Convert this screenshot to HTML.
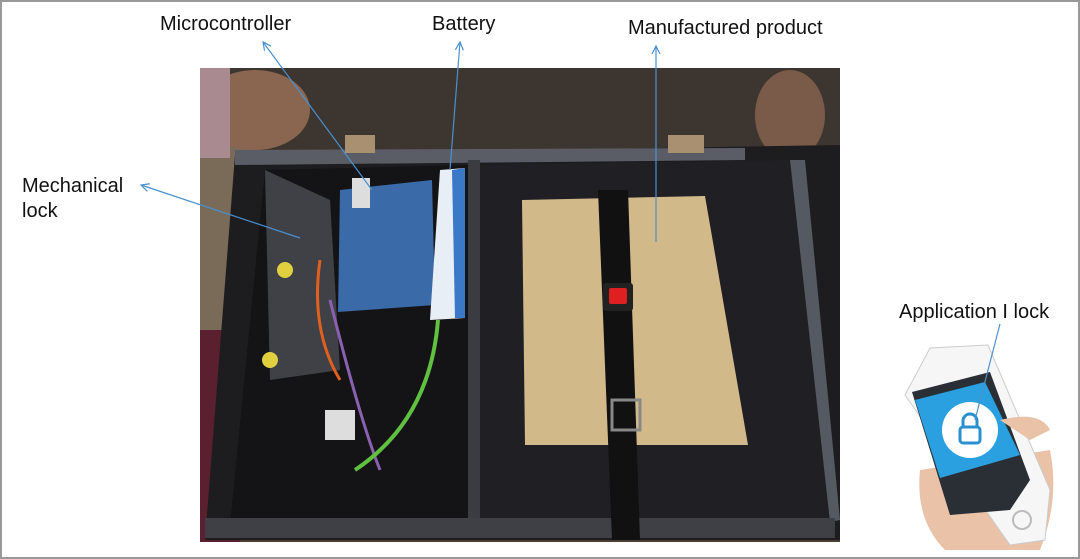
<!DOCTYPE html>
<html><head><meta charset="utf-8"><style>
html,body{margin:0;padding:0;background:#fff}
svg{display:block}
text{font-family:"Liberation Sans",sans-serif;font-size:20px;fill:#111}
</style></head><body>
<svg width="1080" height="559" viewBox="0 0 1080 559" xmlns="http://www.w3.org/2000/svg">
<defs>
<marker id="ah" markerWidth="10" markerHeight="10" refX="1" refY="5" orient="auto" markerUnits="userSpaceOnUse">
<path d="M9,1 L1,5 L9,9" fill="none" stroke="#4a90d0" stroke-width="1.2"/></marker>
</defs>
<rect x="1" y="1" width="1078" height="557" fill="#fff" stroke="#999" stroke-width="2"/>
<!-- photo -->
<rect x="200" y="68" width="640" height="474" fill="#4a3e36"/>
<rect x="200" y="68" width="640" height="85" fill="#3d352f"/>
<rect x="200" y="140" width="60" height="200" fill="#7a6a58"/>
<rect x="780" y="150" width="60" height="240" fill="#6e5f50"/>
<rect x="200" y="330" width="40" height="212" fill="#5a2030"/>
<!-- hands -->
<ellipse cx="255" cy="110" rx="55" ry="40" fill="#8a6650"/>
<ellipse cx="790" cy="115" rx="35" ry="45" fill="#7a5a48"/>
<rect x="200" y="68" width="30" height="90" fill="#a88a90"/>
<!-- box -->
<polygon points="235,155 840,145 840,540 205,540" fill="#1d1d20"/>
<polygon points="235,150 745,148 745,160 235,165" fill="#5a5d66"/>
<polygon points="265,170 470,165 470,525 230,525" fill="#141416"/>
<polygon points="480,165 790,160 830,520 480,525" fill="#202024"/>
<polygon points="790,160 805,160 840,520 830,522" fill="#555962"/>
<rect x="468" y="160" width="12" height="370" fill="#3a3c42"/>
<rect x="205" y="518" width="630" height="20" fill="#3e4046"/>
<rect x="345" y="135" width="30" height="18" fill="#a89070"/>
<rect x="668" y="135" width="36" height="18" fill="#a89070"/>
<!-- mech lock acrylic -->
<polygon points="265,170 330,200 340,370 270,380" fill="#4a4c52" opacity=".8"/>
<circle cx="285" cy="270" r="8" fill="#e0d040"/>
<circle cx="270" cy="360" r="8" fill="#e0d040"/>
<!-- board -->
<polygon points="340,190 432,180 435,305 338,312" fill="#3a6aa8"/>
<rect x="352" y="178" width="18" height="30" fill="#ddd"/>
<path d="M320,260 Q310,330 340,380" stroke="#e06020" stroke-width="3" fill="none"/>
<path d="M330,300 Q360,420 380,470" stroke="#8a60b0" stroke-width="3" fill="none"/>
<rect x="325" y="410" width="30" height="30" fill="#ddd"/>
<!-- battery -->
<polygon points="440,170 465,168 465,318 430,320" fill="#e8eef6"/>
<polygon points="452,170 465,168 465,318 455,318" fill="#3a78c8"/>
<path d="M438,320 Q430,420 355,470" stroke="#60c040" stroke-width="4" fill="none"/>
<!-- cardboard -->
<polygon points="522,200 705,196 748,445 525,445" fill="#d2b98a"/>
<line x1="616" y1="200" x2="620" y2="445" stroke="#b89f70" stroke-width="2"/>
<polygon points="598,190 628,190 640,540 612,540" fill="#111"/>
<rect x="603" y="283" width="30" height="28" rx="3" fill="#222"/>
<rect x="609" y="288" width="18" height="16" rx="2" fill="#e02020"/>
<rect x="612" y="400" width="28" height="30" fill="none" stroke="#888" stroke-width="3"/>
<!-- phone -->
<path d="M920,470 Q915,520 945,550 L1040,550 Q1060,500 1050,450 Z" fill="#e9c2a8"/>
<polygon points="930,348 988,345 1050,490 1045,540 1010,545 905,395" fill="#f6f6f6" stroke="#ccc"/>
<polygon points="912,392 990,372 1030,480 1010,510 950,515" fill="#2a2f36"/>
<polygon points="915,400 985,382 1020,455 940,478" fill="#2aa0e0"/>
<circle cx="970" cy="430" r="28" fill="#fff"/>
<rect x="960" y="427" width="20" height="16" rx="3" fill="none" stroke="#2a90d0" stroke-width="3"/>
<path d="M963,427 v-6 a7,7 0 0 1 14,0 v6" fill="none" stroke="#2a90d0" stroke-width="3"/>
<circle cx="1022" cy="520" r="9" fill="none" stroke="#bbb" stroke-width="2"/>
<path d="M1000,420 Q1040,410 1050,430 L1030,440 Z" fill="#e9c2a8"/>
<!-- labels -->
<text x="160" y="30">Microcontroller</text>
<text x="432" y="30">Battery</text>
<text x="628" y="34">Manufactured product</text>
<text x="22" y="192">Mechanical</text>
<text x="22" y="217">lock</text>
<text x="899" y="318">Application I lock</text>
<g stroke="#4a90d0" stroke-width="1.2" fill="none">
<line x1="263" y1="42" x2="372" y2="190" marker-start="url(#ah)"/>
<line x1="460" y1="42" x2="450" y2="170" marker-start="url(#ah)"/>
<line x1="656" y1="46" x2="656" y2="242" marker-start="url(#ah)"/>
<line x1="141" y1="185" x2="300" y2="238" marker-start="url(#ah)"/>
<line x1="1000" y1="324" x2="975" y2="420"/>
</g>
</svg>
</body></html>
